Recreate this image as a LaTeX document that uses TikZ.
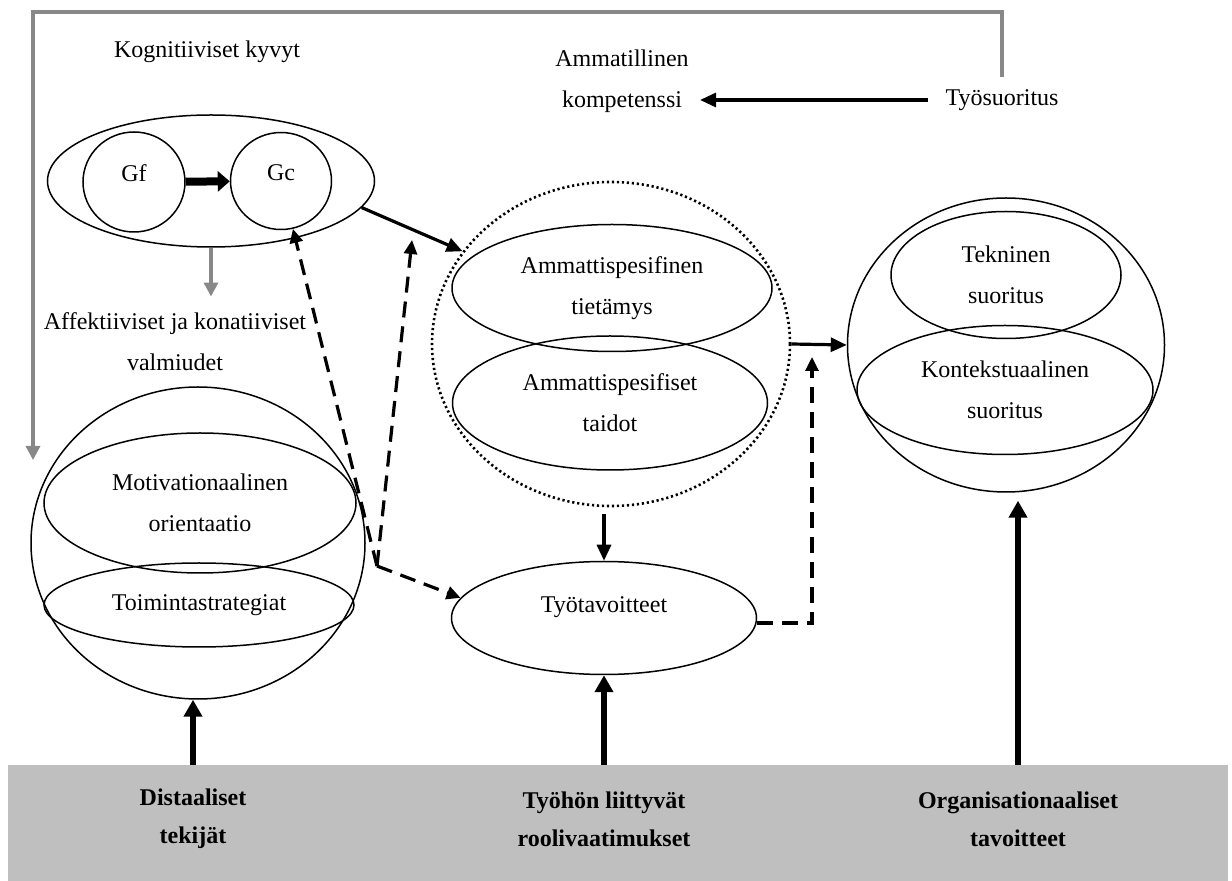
\documentclass[tikz,border=0pt]{standalone}
\usepackage{fontspec}
\setmainfont{Liberation Serif}
\usetikzlibrary{arrows.meta,positioning,shapes.geometric}
\definecolor{fbgray}{RGB}{136,136,136}
\definecolor{bandgray}{RGB}{191,191,191}

\begin{document}
\begin{tikzpicture}[x=0.5pt, y=-0.5pt,
          every node/.style={font=\fontsize{12}{20.5}\selectfont, align=center},
          ell/.style={draw, ellipse, line width=0.75pt, inner sep=0pt},
          txt/.style={inner sep=1pt},
          lab/.style={font=\bfseries\fontsize{12}{19}\selectfont},
          arr/.style={-{Triangle[length=8pt,width=7pt]}, line width=1.6pt},
          gfarr/.style={-{Triangle[length=6pt,width=10pt]}, line width=4pt},
          barr/.style={-{Triangle[length=8.5pt,width=9pt]}, line width=2.6pt},
          darr/.style={-{Triangle[length=7pt,width=6.5pt]}, line width=1.6pt, dash pattern=on 8pt off 4.5pt},
          fb/.style={-{Triangle[length=7pt,width=7pt]}, line width=1.6pt, fbgray},
        ]
          \useasboundingbox (0,0) rectangle (1232,881);

          %% bottom band
          \node[fill=bandgray, minimum width=610pt, minimum height=58pt, inner sep=0pt] (band) at (618,823) {};
          \node[lab] (distal) at (193,819)  {Distaaliset\\tekijät};
          \node[lab] (roles)  at (604,819)  {Työhön liittyvät\\roolivaatimukset};
          \node[lab] (orgs)   at (1018,819) {Organisationaaliset\\tavoitteet};

          %% top texts
          \node[txt] (kogn)    at (207,52)  {Kognitiiviset kyvyt};
          \node[txt] (komp)    at (622,81)  {Ammatillinen\\kompetenssi};
          \node[txt, text height=8.5pt, text depth=2.5pt] (tyosuor) at (1002,100) {Työsuoritus};

          %% cognitive abilities
          \node[ell, minimum width=163.5pt, minimum height=66pt] (cog) at (211,181) {};
          \node[ell, minimum width=51pt, minimum height=50pt, text height=8pt, text depth=8pt]   (gf) at (134,182) {Gf};
          \node[ell, minimum width=50.5pt, minimum height=48.5pt, text height=8pt, text depth=8pt] (gc) at (281,181) {Gc};
          \node[txt] (aff) at (175,342) {Affektiiviset ja konatiiviset\\valmiudet};

          %% left sphere
          \node[ell, minimum width=167pt, minimum height=156pt] (affect) at (198,543) {};
          \node[ell, minimum width=156pt, minimum height=70pt]  (motiv)  at (200,503) {Motivationaalinen\\orientaatio};
          \node[ell, minimum width=155pt, minimum height=42pt]  (toim)   at (199,605) {Toimintastrategiat};

          %% middle column
          \node[ell, line width=1.3pt, dash pattern=on 1.1pt off 1.4pt, minimum width=179pt, minimum height=162pt] (spec) at (611,344) {};
          \node[ell, minimum width=160pt, minimum height=63.5pt] (tiet) at (612,288) {Ammattispesifinen\\tietämys};
          \node[ell, minimum width=157.5pt, minimum height=67pt] (taid) at (610,403) {Ammattispesifiset\\taidot};
          \node[ell, minimum width=152.5pt, minimum height=56.5pt, text height=8pt, text depth=13.5pt] (tavo) at (604,618) {Työtavoitteet};

          %% right sphere
          \node[ell, minimum width=158.5pt, minimum height=147pt] (perf) at (1006,345) {};
          \node[ell, minimum width=115pt, minimum height=63.5pt]  (tekn) at (1006,275) {Tekninen\\suoritus};
          \node[ell, minimum width=148pt, minimum height=64.5pt]  (kont) at (1005,390) {Kontekstuaalinen\\suoritus};

          %% free ends
          \coordinate (affsrc) at (377,566);
          \coordinate (mod1)   at (412,240);
          \coordinate (mod2)   at (812,357);
          \coordinate (fbtop)  at (33,12);
          \coordinate (fbend)  at (33,460);

          %% feedback loop (gray)
          \draw[fb, shorten <=5pt] (tyosuor.north) |- (fbtop) -- (fbend);
          \draw[fb, shorten >=7pt] (cog.south) -- (cog.south |- aff.north);

          %% solid links
          \draw[arr, shorten <=7.5pt, shorten >=4.5pt] (tyosuor.west) -- (tyosuor.west -| komp.east);
          \draw[gfarr] (gf) -- (gc);
          \draw[arr] (cog.-10) -- (spec.148);
          \draw[arr, shorten <=3.5pt] (spec.south -| tavo.north) -- (tavo.north);
          \draw[arr] (spec.east) -- (perf.west);

          %% dashed links
          \draw[darr] (affsrc) -- (gc);
          \draw[darr] (affsrc) -- (mod1);
          \draw[darr] (affsrc) -- (tavo.172);
          \draw[darr] (tavo.east) ++(0,5) -| (mod2);

          %% from the band
          \draw[barr] (distal |- band.north) -- (distal |- affect.south);
          \draw[barr] (roles |- band.north)  -- (roles |- tavo.south);
          \draw[barr, shorten >=4pt] (orgs |- band.north) -- (orgs |- perf.south);
        \end{tikzpicture}
\end{document}
